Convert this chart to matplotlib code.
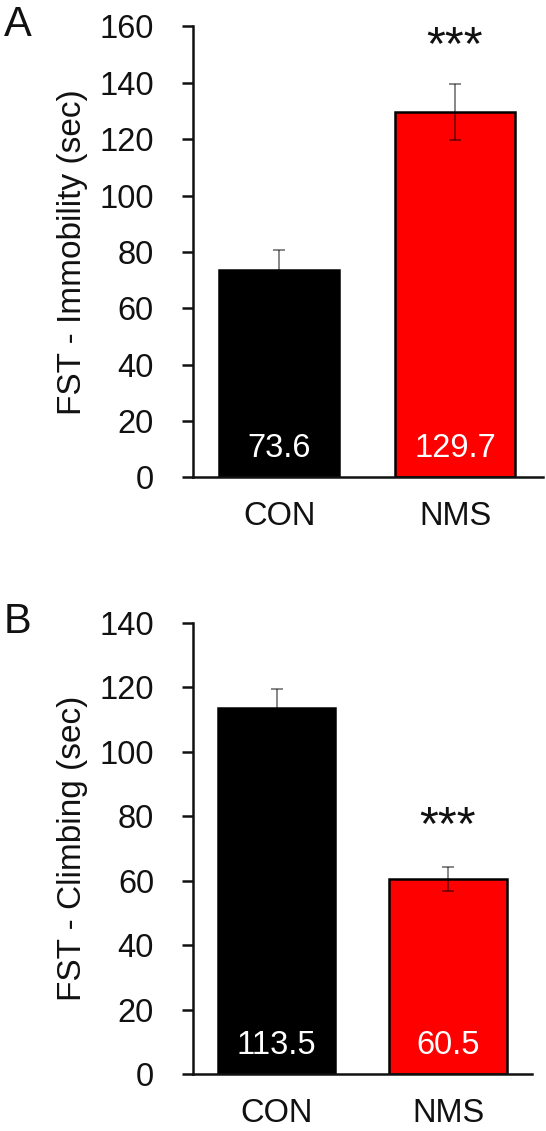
import matplotlib
matplotlib.use("Agg")
import matplotlib.pyplot as plt

plt.rcParams['font.family'] = ['Liberation Sans', 'DejaVu Sans']

groups = ["CON", "NMS"]
colors = ["#000000", "#ff0000"]

immobility = [73.6, 129.7]
immobility_err = [7.0, 10.0]
climbing = [113.5, 60.5]
climbing_err = [6.0, 3.7]

ticks_a = [0, 20, 40, 60, 80, 100, 120, 140, 160]
ticks_b = [0, 20, 40, 60, 80, 100, 120, 140]

TXT = "#111111"
fig = plt.figure(figsize=(5.46, 11.31), dpi=100)


def panel(rect, vals, errs, ylim, ticks, xlim, ylabel, letter, star_y, letter_pos):
    ax = fig.add_axes(rect)
    x = list(range(len(groups)))
    ax.bar(x, vals, width=0.685, color=colors, edgecolor="black", linewidth=1.8, zorder=2)
    ax.errorbar(x, vals, yerr=errs, fmt="none", ecolor=(0, 0, 0, 0.55), elinewidth=1.2,
                capsize=4.5, capthick=1.2, zorder=3)
    for xi, v in zip(x, vals):
        ax.annotate(f"{v}", xy=(xi, 0), xytext=(0, 14.5), textcoords="offset points",
                    ha="center", va="baseline", color="white", fontsize=23.5)
    ax.text(1, star_y, "***", ha="center", va="baseline", fontsize=35, color=TXT)
    ax.set_xlim(*xlim)
    ax.set_ylim(0, ylim)
    ax.set_yticks(ticks)
    ax.set_xticks(x)
    ax.set_xticklabels(groups)
    ax.tick_params(axis="y", direction="out", length=8, width=1.8, labelsize=23.5,
                   colors=TXT, pad=20)
    ax.tick_params(axis="x", length=0, labelsize=23.5, colors=TXT, pad=17)
    for s in ["top", "right"]:
        ax.spines[s].set_visible(False)
    for s in ["left", "bottom"]:
        ax.spines[s].set_linewidth(1.8)
        ax.spines[s].set_color("#111111")
    ax.set_ylabel(ylabel, fontsize=24, color=TXT, labelpad=8)
    fig.text(letter_pos[0], letter_pos[1], letter, fontsize=30, ha="left",
             va="baseline", color=TXT)
    return ax


panel([0.3529, 0.5780, 0.6416, 0.3986], immobility, immobility_err, 160, ticks_a,
      (-0.492, 1.50), "FST - Immobility (sec)", "A", 148.5, (0.008, 0.9682))
panel([0.3535, 0.0504, 0.6203, 0.3988], climbing, climbing_err, 140, ticks_b,
      (-0.487, 1.488), "FST - Climbing (sec)", "B", 73, (0.006, 0.4403))

fig.savefig("out.png", dpi=100)
